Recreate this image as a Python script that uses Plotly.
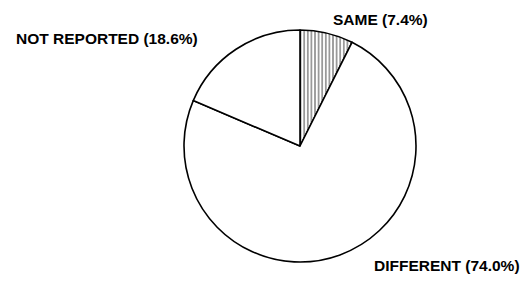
import plotly.graph_objects as go

labels = ["SAME", "DIFFERENT", "NOT REPORTED"]
values = [7.4, 74.0, 18.6]
patterns = ["|", "", ""]

W, H = 525, 281

fig = go.Figure(go.Pie(
    labels=labels,
    values=values,
    sort=False,
    direction="clockwise",
    rotation=0,
    textinfo="none",
    hoverinfo="label+percent",
    marker=dict(
        colors=["white", "white", "white"],
        line=dict(color="black", width=1.6),
        pattern=dict(shape=patterns, fgcolor="black", bgcolor="white",
                     size=3.6, solidity=0.4, fillmode="overlay"),
    ),
    domain=dict(x=[184 / W, 416 / W], y=[19 / H, 251 / H]),
    showlegend=False,
))

# label placements (pixel positions of text anchors)
label_pos = {
    "SAME": (331, 19),
    "NOT REPORTED": (14, 38),
    "DIFFERENT": (372, 265),
}
for lab, val in zip(labels, values):
    px, py = label_pos[lab]
    fig.add_annotation(
        text=f"<b>{lab} ({val:.1f}%)</b>",
        x=px / W, y=1 - py / H, xref="paper", yref="paper",
        xanchor="left", yanchor="middle", showarrow=False,
        font=dict(family="Liberation Sans, Arial, sans-serif", size=15.5, color="black"),
    )

fig.update_layout(
    width=W, height=H,
    margin=dict(l=0, r=0, t=0, b=0),
    paper_bgcolor="white",
    plot_bgcolor="white",
)

fig.write_html("out.html", config={"displayModeBar": False},
               post_script="document.body.style.margin='0';")
